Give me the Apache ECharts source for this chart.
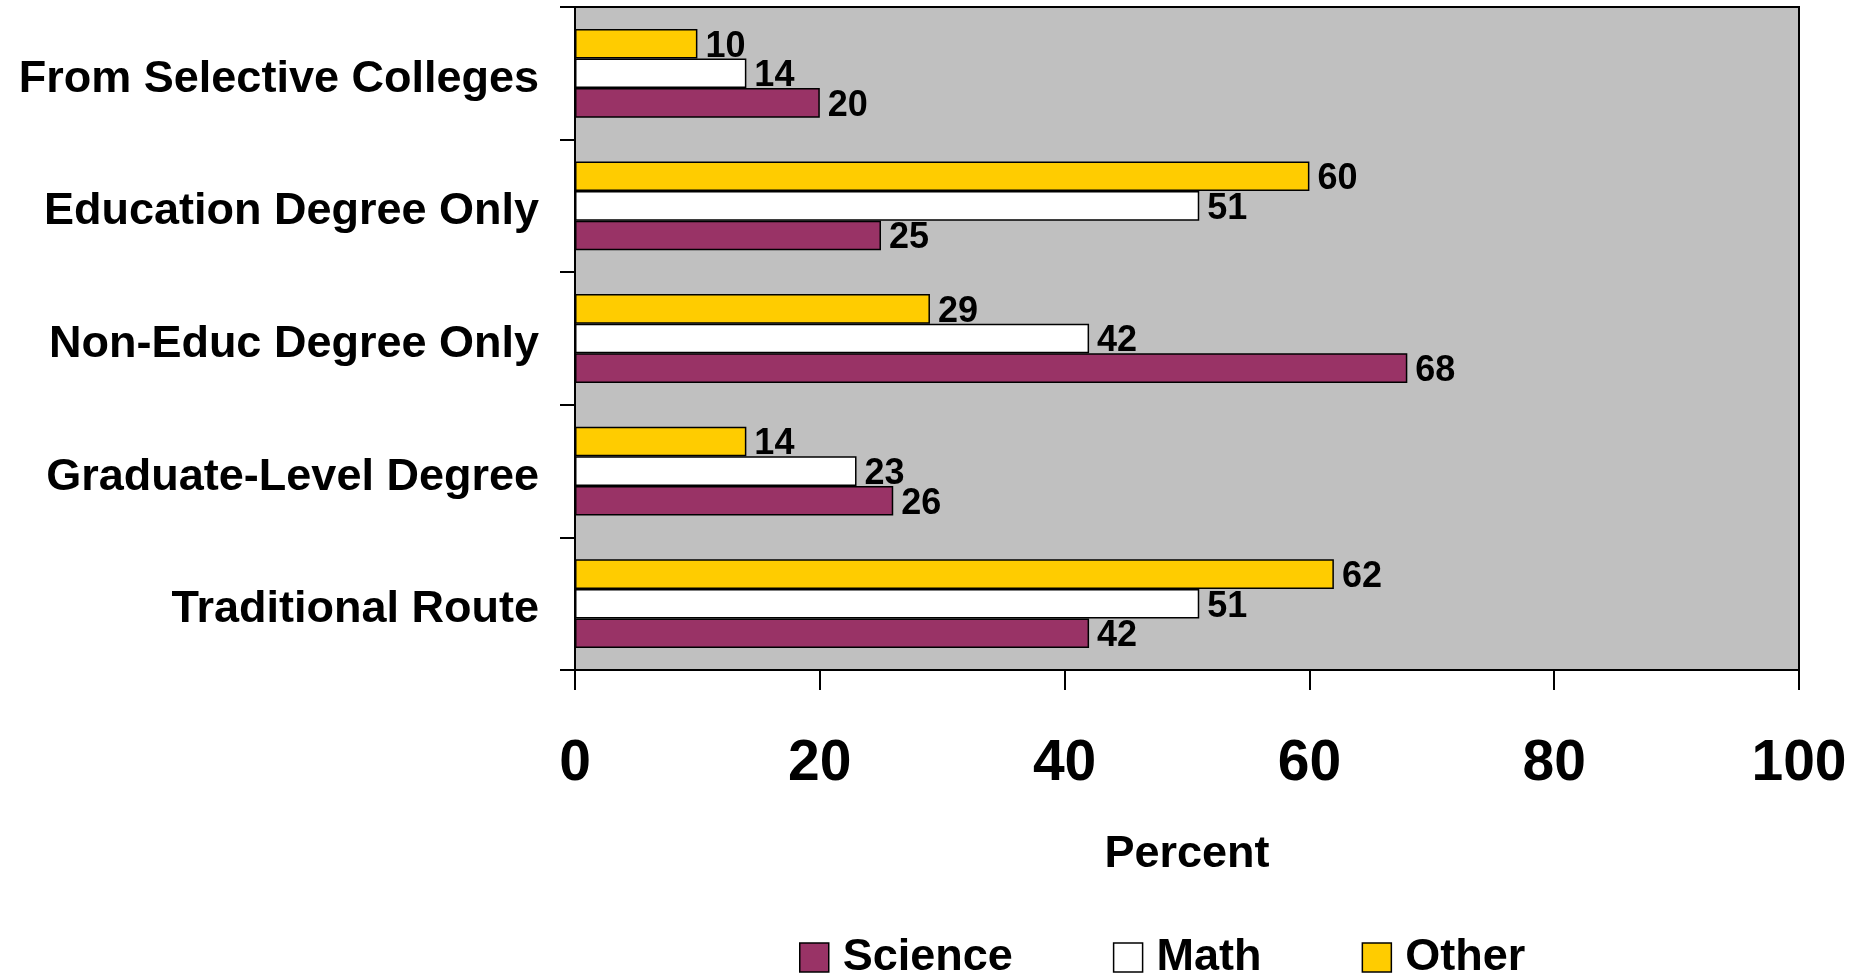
<!DOCTYPE html>
<html>
<head>
<meta charset="utf-8">
<script src="https://cdn.jsdelivr.net/npm/echarts@6/dist/echarts.min.js"></script>
<style>
html,body{margin:0;padding:0;background:#fff;}
#chart{width:1861px;height:977px;}
</style>
</head>
<body>
<div id="chart"></div>
<script>
var categories = ['Traditional Route', 'Graduate-Level Degree', 'Non-Educ Degree Only', 'Education Degree Only', 'From Selective Colleges'];
var scienceValues = [42, 26, 68, 25, 20];
var mathValues = [51, 23, 42, 51, 14];
var otherValues = [62, 14, 29, 60, 10];
var xTicks = [0, 20, 40, 60, 80, 100];
var legendNames = ['Science', 'Math', 'Other'];

var FONT = '"Liberation Sans", Arial, sans-serif';
var chart = echarts.init(document.getElementById('chart'), null, {renderer: 'canvas'});

function barSeries(name, data, color) {
  return {
    name: name,
    type: 'bar',
    data: data,
    barGap: '0%',
    barCategoryGap: '33%',
    itemStyle: {color: color, borderColor: '#000', borderWidth: 1.5},
    label: {
      show: true,
      position: 'right',
      distance: 8,
      offset: [0, 3],
      color: '#000',
      fontFamily: FONT,
      fontWeight: 'bold',
      fontSize: 36
    },
    emphasis: {disabled: true}
  };
}

chart.setOption({
  animation: false,
  backgroundColor: '#fff',
  grid: {
    left: 575, right: 62, top: 7, bottom: 307,
    show: true,
    backgroundColor: '#c0c0c0',
    borderColor: '#000',
    borderWidth: 2
  },
  legend: {
    data: legendNames,
    left: 799,
    top: 935,
    padding: 0,
    itemWidth: 29,
    itemHeight: 29,
    itemGap: 100,
    icon: 'rect',
    itemStyle: {borderColor: '#000', borderWidth: 1.5},
    textStyle: {
      color: '#000', fontFamily: FONT, fontWeight: 'bold', fontSize: 45,
      padding: [0, 0, 0, 9]
    },
    selectedMode: false
  },
  xAxis: {
    type: 'value',
    min: xTicks[0],
    max: xTicks[xTicks.length - 1],
    interval: 20,
    name: 'Percent',
    nameLocation: 'middle',
    nameGap: 162,
    nameTextStyle: {color: '#000', fontFamily: FONT, fontWeight: 'bold', fontSize: 45},
    axisLine: {show: true, lineStyle: {color: '#000', width: 2}},
    axisTick: {show: true, length: 20, lineStyle: {color: '#000', width: 2}},
    axisLabel: {color: '#000', fontFamily: FONT, fontWeight: 'bold', fontSize: 57, margin: 66},
    splitLine: {show: false}
  },
  yAxis: {
    type: 'category',
    data: categories,
    axisLine: {show: true, lineStyle: {color: '#000', width: 2}},
    axisTick: {show: true, length: 15, lineStyle: {color: '#000', width: 2}},
    axisLabel: {
      color: '#000', fontFamily: FONT, fontWeight: 'bold', fontSize: 45, margin: 36,
      verticalAlign: 'top', lineHeight: 12
    },
    splitLine: {show: false}
  },
  series: [
    barSeries('Other', otherValues, '#ffcc00'),
    barSeries('Math', mathValues, '#ffffff'),
    barSeries('Science', scienceValues, '#993366')
  ]
});
</script>
</body>
</html>
